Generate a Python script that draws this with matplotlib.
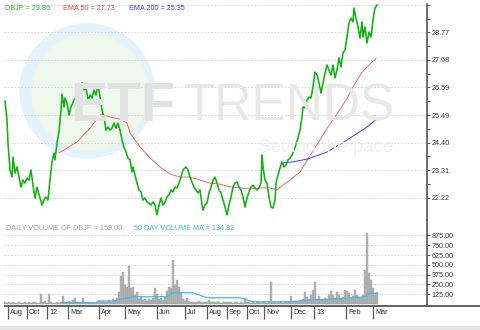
import numpy as np
import matplotlib
matplotlib.use("Agg")
import matplotlib.pyplot as plt
from matplotlib.patches import Ellipse, Rectangle
from matplotlib.lines import Line2D
import matplotlib.transforms as mtransforms

plt.rcParams['font.family'] = ['Liberation Sans', 'DejaVu Sans']

# ---------------------------------------------------------------------------
#  Data (x = trading-day index from the first bar)
# ---------------------------------------------------------------------------
price_days = [0, 2, 3, 5, 7, 8, 10, 12, 14, 16, 18, 20, 22, 24, 26, 28, 30, 32, 35, 37,
              39, 41, 43, 45, 47, 49, 50, 52, 54, 56, 57, 59, 60, 62, 64, 66, 69, 72, 75, 77,
              79, 81, 83, 85, 87, 89, 91, 93, 95, 97, 99, 101, 103, 105, 107, 109, 111, 113, 115, 117,
              119, 121, 123, 125, 127, 128, 130, 132, 134, 136, 138, 140, 142, 144, 146, 148, 150, 152, 154, 156,
              158, 160, 162, 164, 166, 168, 170, 172, 174, 176, 178, 181, 183, 185, 187, 189, 191, 193, 195, 197,
              198, 200, 202, 204, 206, 208, 210, 212, 214, 216, 218, 220, 222, 224, 226, 228, 230, 232, 234, 236,
              238, 240, 242, 244, 246, 248, 250, 252, 254, 256, 257, 258, 260, 262, 264, 266, 268, 270, 271, 273,
              275, 277, 279, 281, 283, 285, 287, 289, 291, 293, 295, 297, 298, 300, 302, 304, 306, 308, 310, 312,
              314, 316, 318, 320, 322, 324, 326, 328, 330, 332, 334, 336, 338, 340, 342, 344, 346, 348, 349, 351,
              353, 355, 357, 358, 360, 362, 364, 366, 368, 370, 372]
price = [26.05, 25.30, 24.39, 23.32, 23.04, 23.83, 23.20, 23.44, 23.04, 22.64, 22.92, 22.80, 23.00, 22.92, 23.32, 22.72, 22.21, 22.64, 22.21, 21.93,
         22.13, 22.25, 22.13, 22.92, 23.64, 23.99, 23.72, 24.39, 24.83, 25.70, 26.33, 25.82, 26.17, 25.97, 25.50, 25.82, 26.09, 26.29, 26.57, 26.77,
         26.49, 26.57, 26.09, 26.29, 26.17, 26.49, 26.29, 26.73, 26.21, 25.70, 25.42, 24.90, 25.02, 24.90, 24.98, 25.18, 24.98, 25.18, 24.90, 24.51,
         24.23, 24.03, 23.79, 23.72, 23.24, 23.44, 23.12, 22.80, 22.53, 22.45, 22.13, 22.21, 22.05, 22.01, 21.93, 22.05, 21.93, 21.54, 21.93, 22.21,
         21.93, 22.05, 22.25, 22.33, 22.53, 22.45, 22.64, 22.61, 22.80, 23.04, 23.32, 23.44, 23.32, 23.04, 22.84, 22.64, 22.53, 22.41, 22.53, 21.93,
         21.73, 21.93, 22.01, 22.41, 22.64, 22.92, 23.04, 22.80, 22.53, 22.41, 22.13, 21.85, 21.54, 21.93, 22.25, 22.64, 22.80, 22.84, 22.64, 22.53,
         22.25, 21.85, 22.21, 22.45, 22.64, 22.72, 22.61, 22.53, 22.61, 22.80, 23.91, 23.44, 22.92, 22.80, 22.25, 21.85, 21.81, 22.13, 22.80, 23.12,
         23.40, 23.64, 23.44, 23.52, 23.72, 23.79, 23.91, 24.11, 24.31, 24.59, 24.90, 25.42, 25.82, 25.78, 26.09, 26.21, 26.17, 26.61, 27.20, 27.09,
         26.77, 26.37, 26.77, 27.16, 27.48, 27.28, 27.09, 27.48, 26.97, 27.28, 27.76, 27.40, 27.96, 28.08, 28.59, 29.15, 29.34, 29.19, 29.74, 29.34,
         28.99, 28.55, 29.19, 28.59, 28.99, 28.35, 28.79, 28.59, 29.27, 29.74, 29.86]

ema50_days = [54, 72, 85, 96, 105, 115, 122, 125, 135, 145, 155, 165, 175, 185, 195, 205, 215, 225, 235, 245,
              255, 265, 272, 278, 285, 295, 303, 313, 323, 332, 341, 348, 357, 365, 371]
ema50 = [24.00, 24.43, 24.98, 25.54, 25.42, 25.34, 25.18, 24.79, 24.23, 23.80, 23.44, 23.16, 23.04, 23.04, 22.92, 22.80, 22.76, 22.65, 22.61, 22.57,
         22.61, 22.61, 22.53, 22.72, 22.92, 23.24, 23.76, 24.39, 25.02, 25.54, 26.09, 26.61, 27.20, 27.52, 27.73]

ema200_days = [277, 288, 303, 322, 342, 362, 372]
ema200 = [23.60, 23.64, 23.76, 24.03, 24.51, 25.02, 25.35]

vol_days = list(range(0, 374, 2))
volume = [20, 18, 22, 15, 20, 18, 15, 20, 18, 15,
          20, 18, 22, 15, 25, 20, 18, 15, 128, 20,
          35, 15, 128, 25, 18, 15, 20, 15, 30, 102,
          20, 15, 35, 18, 50, 72, 25, 15, 20, 72,
          25, 15, 20, 18, 25, 15, 30, 40, 20, 35,
          25, 30, 45, 25, 60, 40, 80, 150, 360, 404,
          242, 221, 485, 200, 213, 120, 157, 60, 106, 50,
          70, 40, 60, 45, 80, 200, 124, 60, 75, 55,
          90, 166, 221, 200, 561, 242, 302, 221, 140, 60,
          40, 72, 35, 25, 30, 20, 25, 35, 20, 30,
          25, 20, 55, 20, 25, 30, 20, 25, 15, 30,
          20, 25, 20, 30, 15, 20, 25, 18, 20, 15,
          72, 20, 25, 18, 20, 15, 25, 20, 18, 25,
          20, 15, 25, 277, 20, 25, 18, 20, 25, 15,
          30, 20, 25, 102, 20, 35, 25, 40, 45, 60,
          157, 85, 60, 119, 174, 277, 70, 98, 60, 50,
          80, 70, 119, 166, 119, 80, 157, 110, 70, 90,
          174, 166, 140, 80, 100, 174, 120, 90, 80, 119,
          430, 900, 400, 302, 200, 119, 159]

vol_ma_days = [57, 92, 93, 108, 128, 162, 168, 188, 202, 235, 248, 285, 308, 342, 360, 365, 372]
vol_ma = [17, 17, 38, 38, 93, 93, 144, 144, 80, 80, 29, 29, 51, 73, 93, 136, 134.82]

price_ticks = [22.22, 23.31, 24.40, 25.49, 26.59, 27.68, 28.77, 29.86]
vol_ticks = [125, 250, 375, 500, 625, 750, 875]
month_days = [3, 22, 42, 63, 94, 120, 152, 180, 202, 222, 242, 259, 286, 309, 341, 368]
month_labels = ['Aug', 'Oct', '12', 'Mar', 'Apr', 'May', 'Jun', 'Jul', 'Aug', 'Sep',
                'Oct', 'Nov', 'Dec', '13', 'Feb', 'Mar']

# ---------------------------------------------------------------------------
#  Figure layout (pixel helpers)
# ---------------------------------------------------------------------------
W, H = 480, 330
fig = plt.figure(figsize=(W / 100, H / 100), dpi=100)
fig.patch.set_facecolor('white')


def px_rect(x0, y0, x1, y1):
    """Pixel box (top-left origin) -> figure fraction rect."""
    return [x0 / W, 1 - y1 / H, (x1 - x0) / W, (y1 - y0) / H]


# watermark: circle logo + ETF TRENDS
fig.add_artist(Ellipse((87 / W, 1 - 91 / H), 134 / W, 134 / H,
                       transform=fig.transFigure, color='#e4f2fb', zorder=0))
fig.add_artist(Ellipse((90 / W, 1 - 92 / H), 116 / W, 116 / H,
                       transform=fig.transFigure, color='#edf7eb', zorder=0))
fig.text(70 / W, 1 - 107 / H, 'ETF', fontsize=40, fontweight='bold',
         color='#e2e2e2', va='center', ha='left', zorder=1)
fig.text(184 / W, 1 - 107 / H, 'TRENDS', fontsize=37,
         color='#e8e8e8', va='center', ha='left', zorder=1)
fig.text(258 / W, 1 - 148 / H, 'Setting the pace', fontsize=13.5,
         color='#efefef', va='center', ha='left', zorder=1)

GRID = dict(color='#cfcfcf', linestyle=(0, (2, 2)), linewidth=0.6)
AXIS_COL = '#555555'
FS = 5.2

# ---------------------------------------------------------------------------
#  Price panel
# ---------------------------------------------------------------------------
ax = fig.add_axes(px_rect(4, 4, 427, 220))
ax.set_facecolor('none')
ax.set_xlim(-1, 422)
ax.set_ylim(30.058 - 0.03964 * 220, 30.058 - 0.03964 * 4)

for t in price_ticks:
    ax.axhline(t, zorder=1, **GRID)
ax.plot(ema50_days, ema50, color='#ff4d4d', lw=0.6, zorder=3)
ax.plot(ema200_days, ema200, color='#3b3bf0', lw=0.7, zorder=3)
ax.plot(price_days, price, color='#0fb30f', lw=1.15, zorder=4)

for s in ['top', 'left', 'bottom']:
    ax.spines[s].set_visible(False)
ax.spines['right'].set_color(AXIS_COL)
ax.spines['right'].set_linewidth(1.2)
ax.yaxis.tick_right()
ax.set_yticks(price_ticks)
ax.set_yticklabels([f'{t:.2f}' for t in price_ticks[:-1]] + [''])
ax.set_yticks([(a + b) / 2 for a, b in zip(price_ticks[:-1], price_ticks[1:])], minor=True)
ax.tick_params(axis='y', which='both', length=2.5, width=0.7, color=AXIS_COL,
               labelsize=FS, labelcolor='#333333', pad=1)
ax.set_xticks([])

fig.text(5 / W, 1 - 9 / H, 'DBJP = 29.86', color='#2db52d', fontsize=FS, va='center')
fig.text(63 / W, 1 - 9 / H, 'EMA 50 = 27.73', color='#ff3b3b', fontsize=FS, va='center')
fig.text(129 / W, 1 - 9 / H, 'EMA 200 = 25.35', color='#3b3bff', fontsize=FS, va='center')

# ---------------------------------------------------------------------------
#  Volume panel
# ---------------------------------------------------------------------------
vx = fig.add_axes(px_rect(4, 220, 427, 306))
vx.set_facecolor('none')
vx.set_xlim(-1, 422)
vx.set_ylim(-2 * 125 / 9.8, 84 * 125 / 9.8)

for t in vol_ticks:
    vx.axhline(t, zorder=1, **GRID)
vx.bar(vol_days, volume, width=1.5, bottom=0, color='#b3b3b3', edgecolor='#a0a0a0',
       linewidth=0.3, zorder=2)
vx.plot(vol_ma_days, vol_ma, color='#45b8f0', lw=0.9, zorder=3)

for s in ['top', 'left']:
    vx.spines[s].set_visible(False)
vx.spines['bottom'].set_visible(False)
vx.spines['right'].set_color(AXIS_COL)
vx.spines['right'].set_linewidth(1.2)
vx.yaxis.tick_right()
vx.set_yticks(vol_ticks)
vx.set_yticklabels([f'{t:.2f}' for t in vol_ticks])
vx.tick_params(axis='y', length=2.5, width=0.7, color=AXIS_COL,
               labelsize=FS, labelcolor='#333333', pad=1)

vx.set_xticks(month_days)
vx.set_xticklabels([])
vx.tick_params(axis='x', length=9.5, width=0.9, color=AXIS_COL, direction='out')
trans = mtransforms.blended_transform_factory(vx.transData, vx.transAxes)
for d, lab in zip(month_days, month_labels):
    vx.text(d + 2, -6 / 84, lab, transform=trans, fontsize=FS, color='#333333',
            ha='left', va='center')

fig.text(6 / W, 1 - 229 / H, 'DAILY VOLUME OF DBJP = 159.00', color='#a0a0a0', fontsize=FS, va='center')
fig.text(134 / W, 1 - 229 / H, '50 DAY VOLUME MA = 134.82', color='#3db5f0', fontsize=FS, va='center')

# bottom axis line across the full width and the light footer strip
fig.add_artist(Line2D([5 / W, 1.0], [1 - 306 / H] * 2, transform=fig.transFigure,
                      color=AXIS_COL, lw=1.3))
fig.add_artist(Rectangle((0, 0), 1, 4 / H, transform=fig.transFigure,
                         color='#e6e6e6', zorder=0))

fig.savefig('out.png', dpi=100)
